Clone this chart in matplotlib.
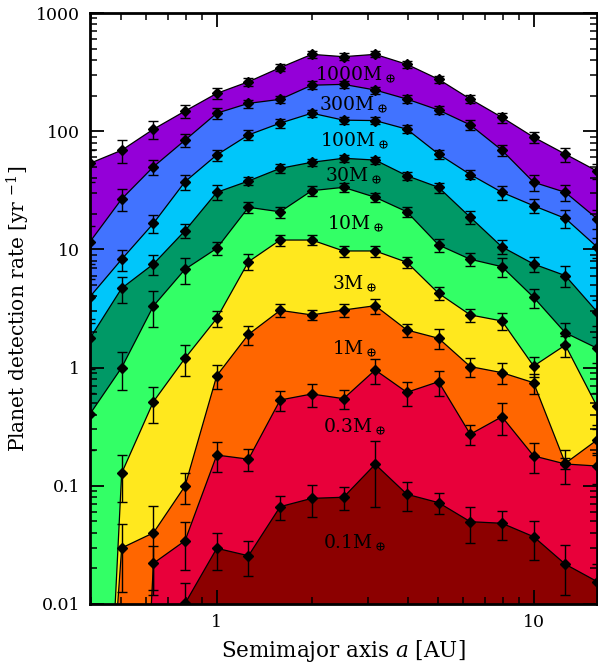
import numpy as np
import matplotlib
matplotlib.use("Agg")
import matplotlib.pyplot as plt
from matplotlib.ticker import LogLocator, NullFormatter, FixedLocator, FixedFormatter

plt.rcParams['font.family'] = ['DejaVu Serif']
plt.rcParams['mathtext.fontset'] = 'dejavuserif'

# semimajor axis bins [AU]
a_au = [0.398, 0.501, 0.631, 0.794, 1.0, 1.259, 1.585, 1.995, 2.512, 3.162,
        3.981, 5.012, 6.310, 7.943, 10.0, 12.589, 15.849]

mass_labels = ["1000", "300", "100", "30", "10", "3", "1", "0.3", "0.1"]

rate_1000 = [53.5, 69, 104, 148, 209, 262, 345, 447, 427, 447, 368, 275, 187, 131, 89, 64, 46]
rate_300 = [11.6, 26.7, 50, 84, 142, 172, 186, 245, 249, 223, 187, 151, 113, 69, 37, 30.4, 18.2]
rate_100 = [3.98, 8.25, 16.6, 37.4, 63, 93, 117, 142, 124, 123, 104, 64, 43, 30.4, 23.4, 18.3, 10.5]
rate_30 = [1.77, 4.69, 7.52, 14.4, 30.4, 37.9, 48.5, 54.6, 59, 57, 42, 33.5, 18.7, 10.5, 7.52, 6.0, 2.97]
rate_10 = [0.405, 1.0, 3.32, 6.79, 10.2, 22.7, 20.8, 31.4, 33.5, 27.6, 20.8, 10.9, 8.25, 7.14, 3.93, 1.97, 1.46]
rate_3 = [5e-7, 0.128, 0.515, 1.2, 2.61, 7.87, 12.0, 12.0, 9.7, 9.7, 7.78, 4.25, 2.79, 2.48, 1.03, 1.55, 0.47]
rate_1 = [5e-6, 0.0298, 0.040, 0.0996, 0.855, 1.91, 3.05, 2.79, 3.07, 3.34, 2.08, 1.77, 1.02, 0.906, 0.745, 0.155, 0.244]
rate_03 = [1e-7, 1e-7, 0.0221, 0.0343, 0.182, 0.168, 0.532, 0.598, 0.546, 0.955, 0.618, 0.760, 0.273, 0.384, 0.179, 0.153, 0.147]
rate_01 = [1e-7, 1e-7, 1e-7, 0.0101, 0.0296, 0.0256, 0.0666, 0.0783, 0.080, 0.152, 0.0848, 0.072, 0.0497, 0.0482, 0.0371, 0.0217, 0.0155]

# relative (1 sigma) errors
err_1000 = [0.3, 0.223, 0.167, 0.129, 0.103, 0.081, 0.071, 0.065, 0.065, 0.058, 0.065, 0.065, 0.075, 0.097, 0.107, 0.136, 0.15]
err_300 = [0.35, 0.21, 0.151, 0.123, 0.107, 0.078, 0.071, 0.075, 0.071, 0.071, 0.075, 0.081, 0.097, 0.103, 0.151, 0.16, 0.18]
err_100 = [0.4, 0.2, 0.167, 0.145, 0.11, 0.091, 0.084, 0.065, 0.071, 0.065, 0.078, 0.091, 0.091, 0.132, 0.132, 0.176, 0.2]
err_30 = [0.45, 0.25, 0.19, 0.139, 0.145, 0.078, 0.081, 0.068, 0.071, 0.071, 0.081, 0.097, 0.126, 0.136, 0.139, 0.205, 0.25]
err_10 = [0.5, 0.354, 0.34, 0.245, 0.129, 0.113, 0.107, 0.097, 0.081, 0.087, 0.097, 0.126, 0.123, 0.176, 0.183, 0.2, 0.25]
err_3 = [0, 0.426, 0.337, 0.299, 0.16, 0.151, 0.107, 0.097, 0.103, 0.103, 0.113, 0.129, 0.13, 0.16, 0.19, 0.205, 0.3]
err_1 = [0, 0.58, 0.70, 0.3, 0.223, 0.183, 0.123, 0.097, 0.129, 0.145, 0.123, 0.19, 0.176, 0.2, 0.19, 0.1, 0.25]
err_03 = [0, 0, 0.4, 0.43, 0.278, 0.208, 0.186, 0.217, 0.176, 0.235, 0.23, 0.24, 0.186, 0.3, 0.285, 0.32, 0.3]
err_01 = [0, 0, 0, 0.5, 0.34, 0.33, 0.233, 0.305, 0.223, 0.567, 0.28, 0.2, 0.34, 0.28, 0.365, 0.45, 0.4]

band_colors = ["#9400D8", "#4173FF", "#00C6FA", "#009966", "#33FF66",
               "#FFE81E", "#FF6600", "#E8003A", "#8C0000"]

rates = [rate_1000, rate_300, rate_100, rate_30, rate_10, rate_3, rate_1, rate_03, rate_01]
errs = [err_1000, err_300, err_100, err_30, err_10, err_3, err_1, err_03, err_01]

fig = plt.figure(figsize=(5.98, 6.65), dpi=100)
ax = fig.add_axes([90/598, 1-604/665, 507/598, 591/665])
ax.set_xscale('log')
ax.set_yscale('log')
ax.set_xlim(a_au[0], a_au[-1])
ax.set_ylim(0.01, 1000)

x = np.array(a_au)
for r, c in zip(rates, band_colors):
    ax.fill_between(x, np.array(r), 1e-12, color=c, lw=0, zorder=1)

for r, e in zip(rates, errs):
    r = np.array(r); e = np.array(e)
    ax.plot(x, r, color='k', lw=0.9, zorder=3)
    m = r > 1e-3
    ax.errorbar(x[m], r[m], yerr=r[m]*e[m], fmt='D', ms=5.5, color='k', mec='k',
                ecolor='k', elinewidth=1.0, capsize=3.5, capthick=1.0, zorder=4, lw=0)

# band labels
label_pos = [(0.523, 0.897), (0.52, 0.845), (0.522, 0.785), (0.52, 0.726),
             (0.524, 0.645), (0.522, 0.543), (0.523, 0.432), (0.522, 0.300), (0.522, 0.105)]
for lab, (fx, fy) in zip(mass_labels, label_pos):
    ax.text(fx, fy, lab + r"M$_\oplus$", transform=ax.transAxes, ha='center', va='center',
            fontsize=13.5, color='k', zorder=5)

ax.yaxis.set_major_locator(FixedLocator([0.01, 0.1, 1, 10, 100, 1000]))
ax.yaxis.set_major_formatter(FixedFormatter(["0.01", "0.1", "1", "10", "100", "1000"]))
ax.yaxis.set_minor_locator(LogLocator(base=10, subs=np.arange(2, 10)))
ax.yaxis.set_minor_formatter(NullFormatter())
ax.xaxis.set_major_locator(FixedLocator([1, 10]))
ax.xaxis.set_major_formatter(FixedFormatter(["1", "10"]))
ax.xaxis.set_minor_locator(LogLocator(base=10, subs=np.arange(2, 10)))
ax.xaxis.set_minor_formatter(NullFormatter())

ax.tick_params(which='both', direction='in', top=True, right=True, labelsize=12.5)
ax.tick_params(which='major', length=10, width=1.3, pad=7)
ax.tick_params(which='minor', length=5, width=1.1)
for s in ax.spines.values():
    s.set_linewidth(2)
    s.set_zorder(6)

ax.set_xlabel(r"Semimajor axis $a$ [AU]", fontsize=15.5, labelpad=5)
ax.set_ylabel(r"Planet detection rate [yr $^{-1}$]", fontsize=14.5, labelpad=3)

fig.savefig("out.png", dpi=100)
